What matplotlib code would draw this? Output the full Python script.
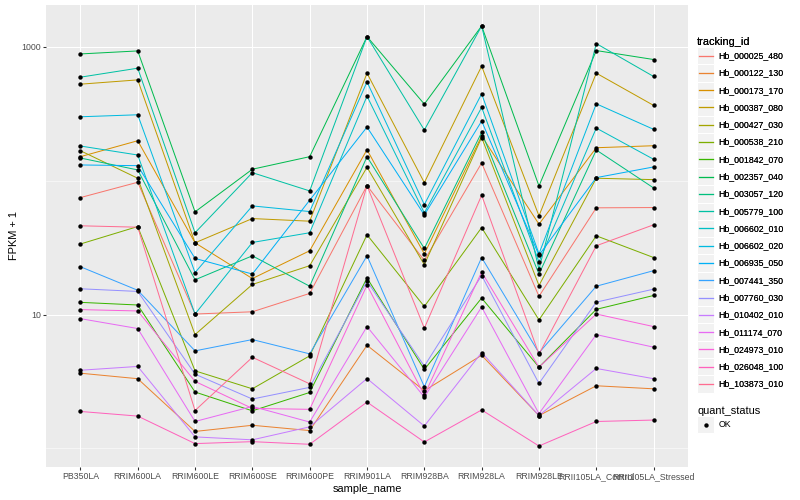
import numpy as np
import matplotlib
matplotlib.use('Agg')
import matplotlib.pyplot as plt
from matplotlib.lines import Line2D
from matplotlib.patches import Rectangle
from matplotlib.legend_handler import HandlerBase
from matplotlib.ticker import NullFormatter, FixedLocator

# ---------------- data ----------------
samples = ["PB350LA", "RRIM600LA", "RRIM600LE", "RRIM600SE", "RRIM600PE",
           "RRIM901LA", "RRIM928BA", "RRIM928LA", "RRIM928LE",
           "RRII105LA_Control", "RRII105LA_Stressed"]

tracking_ids = ["Hb_000025_480", "Hb_000122_130", "Hb_000173_170", "Hb_000387_080",
                "Hb_000427_030", "Hb_000538_210", "Hb_001842_070", "Hb_002357_040",
                "Hb_003057_120", "Hb_005779_100", "Hb_006602_010", "Hb_006602_020",
                "Hb_006935_050", "Hb_007441_350", "Hb_007760_030", "Hb_010402_010",
                "Hb_011174_070", "Hb_024973_010", "Hb_026048_100", "Hb_103873_010"]

s000025_480 = [74.9, 97.5, 10.1, 10.5, 14.4, 92.0, 25.4, 135.8, 13.7, 62.8, 63.1]
s000122_130 = [3.65, 3.32, 1.34, 1.49, 1.36, 5.90, 2.70, 4.97, 1.76, 2.94, 2.79]
s000173_170 = [151.4, 199.2, 34.4, 18.6, 30.0, 170.7, 28.4, 216.0, 47.4, 176.6, 182.8]
s000387_080 = [527.0, 567.5, 34.4, 52.2, 49.9, 636.8, 96.9, 718.0, 54.7, 637.0, 365.8]
s000427_030 = [167.8, 104.5, 7.09, 16.8, 23.2, 126.2, 23.6, 210.5, 16.5, 104.5, 102.0]
s000538_210 = [33.7, 45.5, 3.80, 2.79, 4.92, 39.5, 11.5, 44.7, 9.13, 38.8, 26.7]
s001842_070 = [12.35, 11.8, 2.64, 1.91, 2.62, 18.8, 3.89, 13.3, 4.05, 10.95, 13.9]
s002357_040 = [886.7, 933.8, 58.6, 122.0, 151.4, 1195.0, 374.0, 1434.0, 91.5, 940.0, 805.6]
s003057_120 = [148.0, 120.5, 18.2, 27.5, 16.3, 151.4, 31.2, 230.0, 20.1, 169.8, 88.4]
s005779_100 = [594.5, 693.8, 40.9, 115.0, 84.0, 1195.0, 239.4, 1434.0, 21.8, 1060.0, 601.6]
s006602_010 = [181.9, 155.8, 10.1, 34.6, 40.9, 429.0, 57.6, 353.4, 24.8, 247.7, 144.7]
s006602_020 = [300.8, 311.3, 20.6, 64.9, 58.9, 548.5, 66.4, 446.3, 28.5, 376.0, 242.3]
s006935_050 = [131.3, 129.7, 26.3, 20.1, 71.6, 252.0, 55.6, 279.4, 27.8, 105.6, 126.9]
s007441_350 = [22.8, 15.2, 5.36, 6.51, 5.09, 27.5, 2.89, 26.7, 5.18, 16.3, 21.3]
s007760_030 = [15.6, 14.9, 3.59, 2.34, 2.86, 17.8, 4.12, 19.6, 3.06, 12.4, 15.5]
s010402_010 = [3.84, 4.10, 1.22, 1.16, 1.45, 3.33, 1.47, 5.21, 1.76, 3.96, 3.32]
s011174_070 = [9.33, 7.87, 1.59, 2.06, 1.575, 8.14, 2.42, 11.4, 1.82, 7.09, 5.71]
s024973_010 = [10.9, 10.65, 3.17, 1.99, 1.96, 16.6, 2.50, 20.8, 4.05, 10.1, 8.14]
s026048_100 = [1.89, 1.745, 1.087, 1.124, 1.074, 2.22, 1.117, 1.94, 1.043, 1.59, 1.63]
s103873_010 = [46.1, 45.0, 1.92, 4.80, 3.04, 92.0, 7.91, 78.0, 5.06, 32.7, 46.9]

series_values = [s000025_480, s000122_130, s000173_170, s000387_080, s000427_030,
                 s000538_210, s001842_070, s002357_040, s003057_120, s005779_100,
                 s006602_010, s006602_020, s006935_050, s007441_350, s007760_030,
                 s010402_010, s011174_070, s024973_010, s026048_100, s103873_010]

quant_levels = ["OK"]

# ggplot2 hue palette (20 levels)
colors = ["#F8766D", "#EA8331", "#D89000", "#C09B00", "#A3A500", "#7CAE00",
          "#39B600", "#00BB4E", "#00BF7D", "#00C1A3", "#00BFC4", "#00BAE0",
          "#00B0F6", "#35A2FF", "#9590FF", "#C77CFF", "#E76BF3", "#FA62DB",
          "#FF62BC", "#FF6C91"]

# ---------------- figure ----------------
plt.rcParams['font.family'] = ['Liberation Sans', 'DejaVu Sans']
DPI = 72
W, H = 800, 500
fig = plt.figure(figsize=(W / DPI, H / DPI), dpi=DPI)
fig.patch.set_facecolor('white')
ax = fig.add_axes([46 / W, 33 / H, 642 / W, 462 / H])
ax.set_facecolor('#EBEBEB')

x = np.arange(len(samples))
line_handles = []
for vals, col in zip(series_values, colors):
    ln, = ax.plot(x, vals, color=col, lw=1.0, zorder=2, solid_capstyle='butt')
    line_handles.append(ln)
for vals in series_values:
    ax.plot(x, vals, ls='none', marker='o', ms=4.4, mfc='black', mec='black',
            mew=0, zorder=3)

ax.set_yscale('log')
allv = np.concatenate([np.asarray(v, float) for v in series_values])
lo, hi = np.log10(allv.min()), np.log10(allv.max())
pad = 0.05 * (hi - lo)
ax.set_ylim(10 ** (lo - pad), 10 ** (hi + pad))
ax.set_xlim(-0.6, len(samples) - 1 + 0.6)

ax.yaxis.set_major_locator(FixedLocator([10, 1000]))
ax.set_yticklabels(['10', '1000'])
ax.yaxis.set_minor_locator(FixedLocator([1, 100]))
ax.yaxis.set_minor_formatter(NullFormatter())
ax.set_xticks(x)
ax.set_xticklabels(samples)

ax.grid(which='major', color='white', lw=1.07)
ax.grid(which='minor', axis='y', color='white', lw=0.53)
ax.set_axisbelow(True)
for s in ax.spines.values():
    s.set_visible(False)
ax.tick_params(which='major', length=2.75, width=1.07, color='#333333',
               labelsize=8.8, labelcolor='#4D4D4D', pad=2.2)
ax.tick_params(which='minor', length=0)
ax.set_xlabel('sample_name', fontsize=11, labelpad=2.75, color='black')
ax.set_ylabel('FPKM + 1', fontsize=11, labelpad=2.75, color='black')


class KeyHandler(HandlerBase):
    def __init__(self, mode):
        super().__init__()
        self.mode = mode

    def create_artists(self, legend, orig_handle, xdescent, ydescent, width,
                       height, fontsize, trans):
        r = Rectangle((-xdescent, -ydescent), width, height, facecolor='#F2F2F2',
                      edgecolor='white', lw=1.0, transform=trans)
        cy = -ydescent + height / 2
        if self.mode == 'line':
            a = Line2D([-xdescent + 1.7, -xdescent + width - 1.7], [cy, cy],
                       color=orig_handle.get_color(), lw=1.3, transform=trans)
        else:
            a = Line2D([-xdescent + width / 2], [cy], marker='o', ms=4.4,
                       mfc='black', mec='black', mew=0, ls='none', transform=trans)
        return [r, a]


fs = 8.8
key = 17.28
# matplotlib's legend row height = fs*(0.65*handleheight + 0.245)
hh = (key / fs - 0.245) / 0.65
leg1 = fig.legend(line_handles, tracking_ids, title='tracking_id',
                  loc='upper left', bbox_to_anchor=(697 / W, 1 - 37 / H),
                  frameon=False, fontsize=fs, title_fontsize=11,
                  handlelength=key / fs, handleheight=hh,
                  labelspacing=0.0, handletextpad=0.5, borderpad=0,
                  borderaxespad=0, alignment='left',
                  handler_map={Line2D: KeyHandler('line')})
fig.add_artist(leg1)

pt_handle = Rectangle((0, 0), 1, 1)
leg2 = fig.legend([pt_handle], quant_levels, title='quant_status',
                  loc='upper left', bbox_to_anchor=(697 / W, 1 - 406 / H),
                  frameon=False, fontsize=fs, title_fontsize=11,
                  handlelength=key / fs, handleheight=hh,
                  labelspacing=0.0, handletextpad=0.5, borderpad=0,
                  borderaxespad=0, alignment='left',
                  handler_map={Rectangle: KeyHandler('point')})

fig.savefig('out.png', dpi=DPI, facecolor='white')
